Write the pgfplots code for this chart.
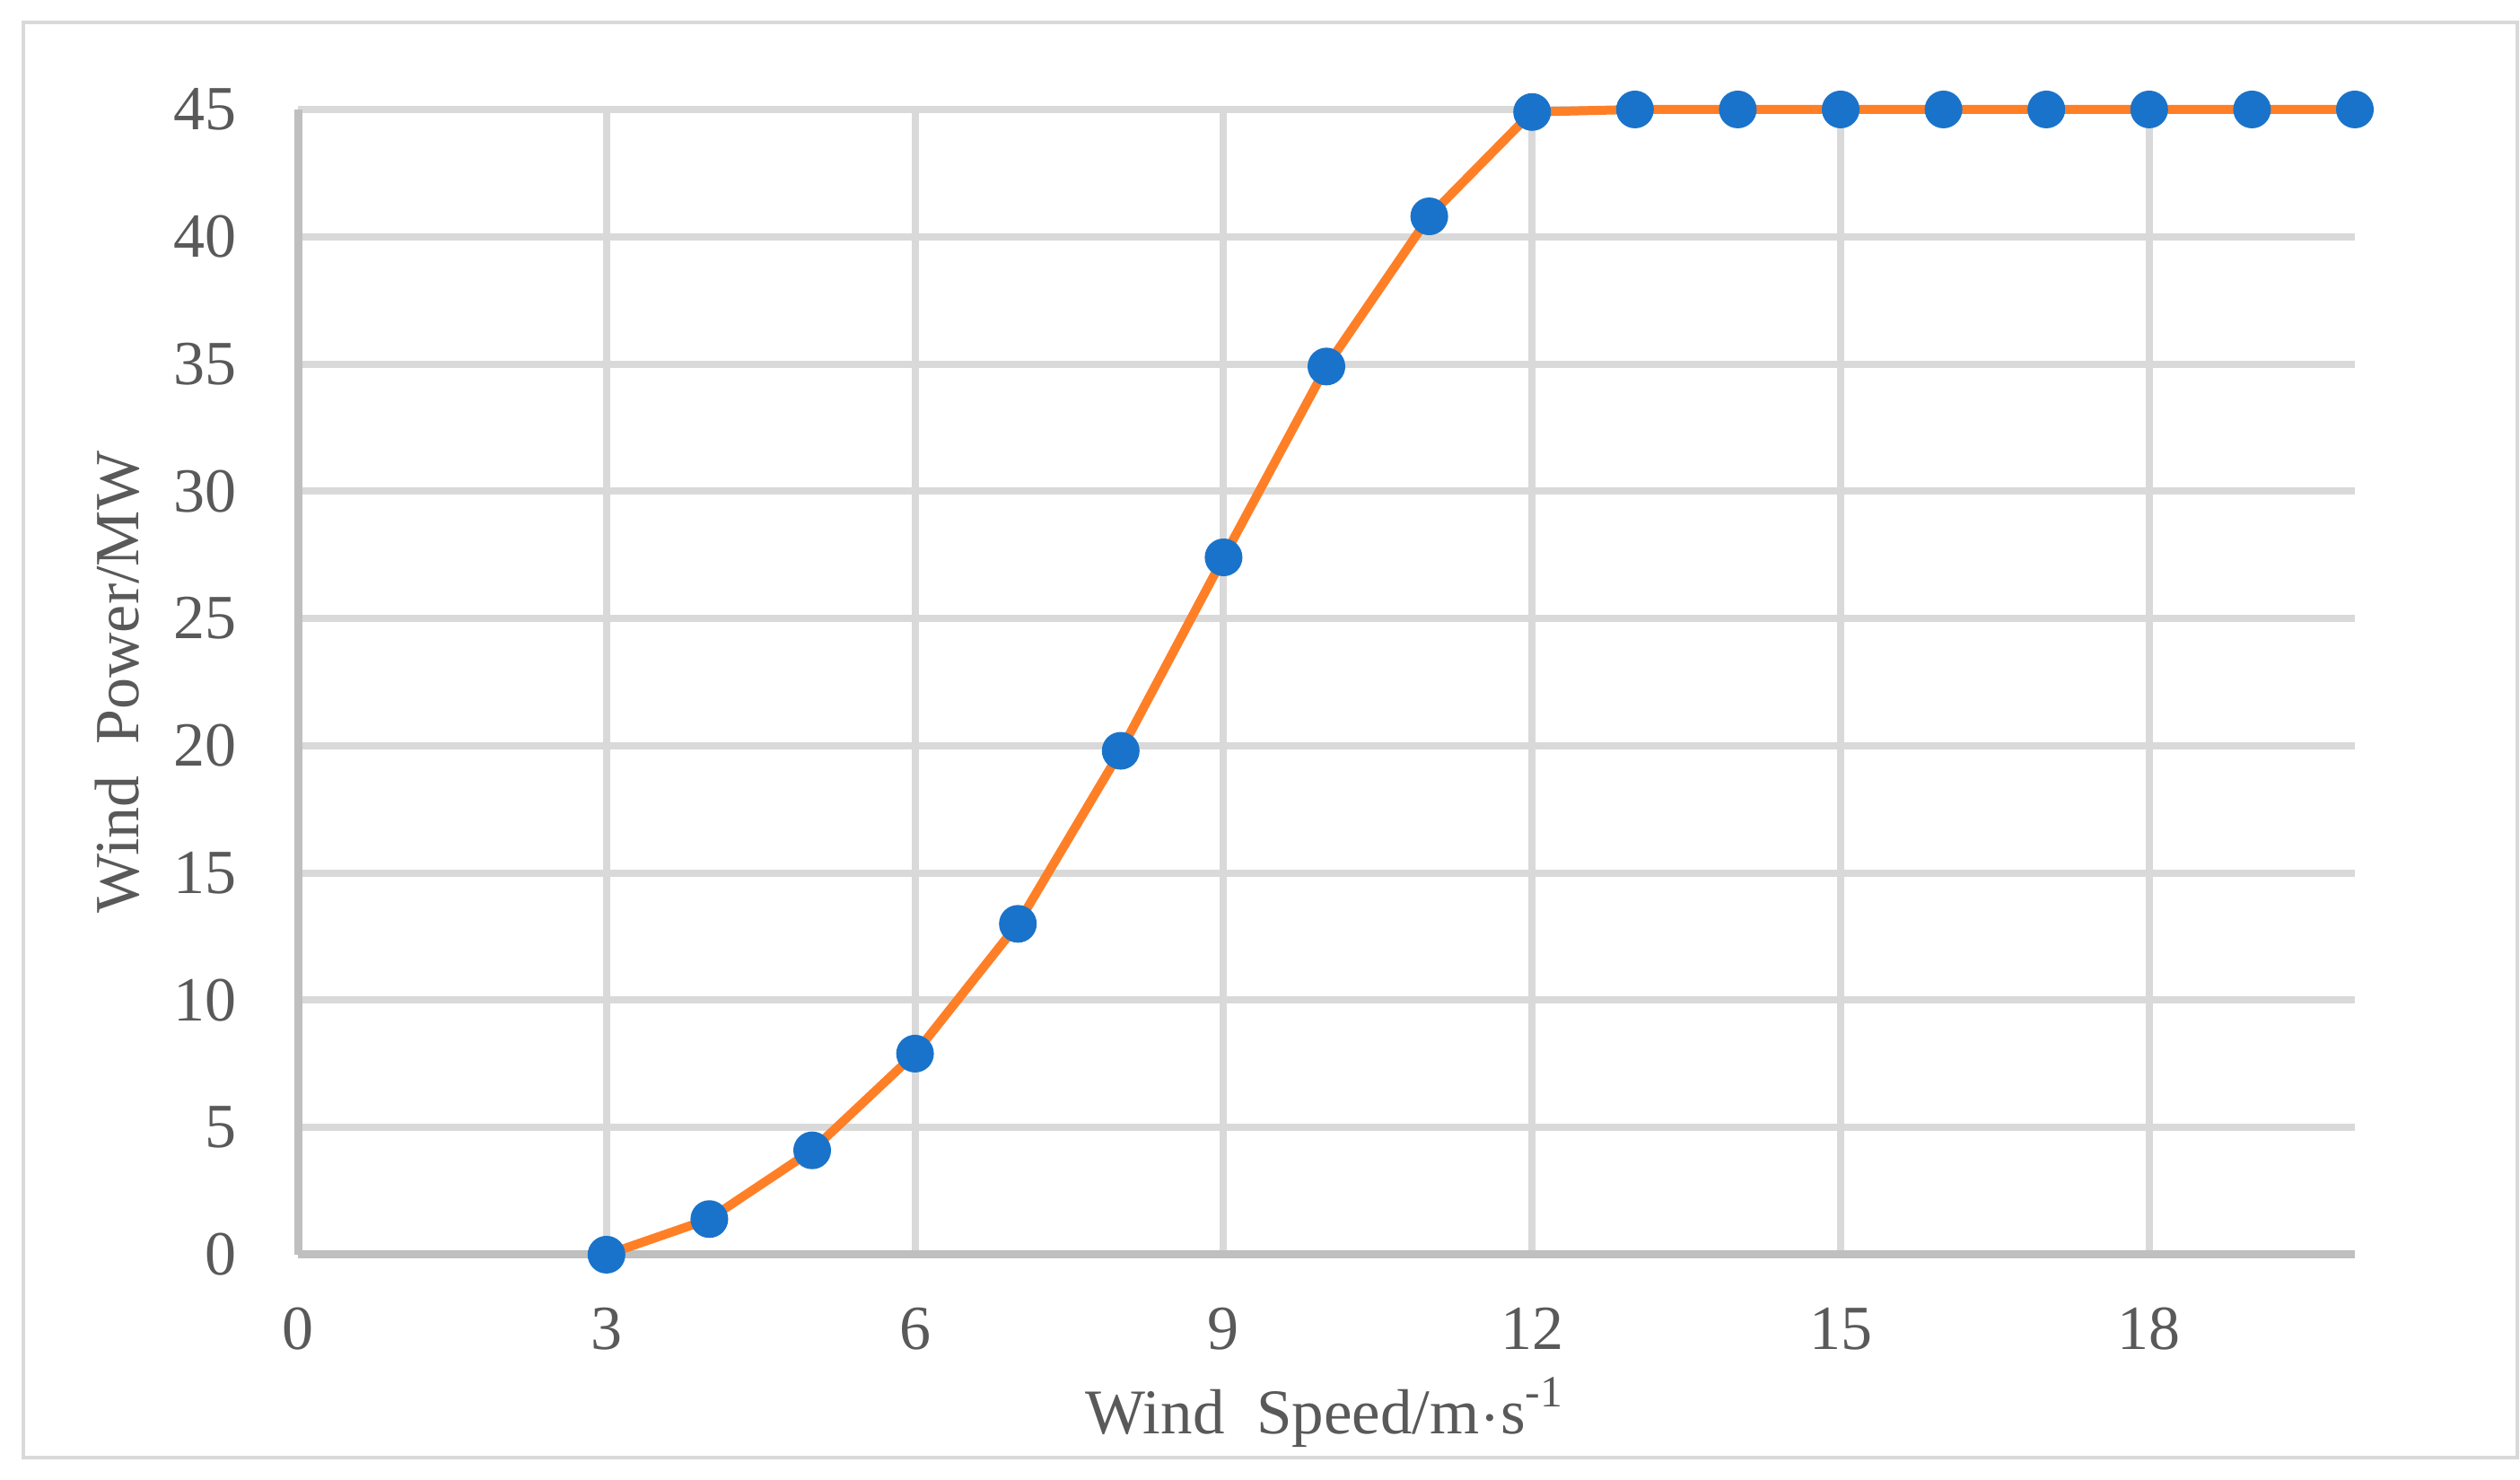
\documentclass[border=0pt]{standalone}
\usepackage{fontspec}
\setmainfont{Liberation Serif}
\usepackage{pgfplots}
\pgfplotsset{compat=1.18}
\definecolor{gridc}{HTML}{D9D9D9}
\definecolor{axisc}{HTML}{BFBFBF}
\definecolor{linec}{HTML}{FF7F27}
\definecolor{markc}{HTML}{1A73CA}
\definecolor{textc}{HTML}{595959}
\pgfplotstableread{
x y
3 0
4 1.4
5 4.1
6 7.9
7 13.0
8 19.8
9 27.4
10 34.9
11 40.8
12 44.9
13 45
14 45
15 45
16 45
17 45
18 45
19 45
20 45
}\powercurve
\begin{document}
\begin{tikzpicture}
\useasboundingbox (-33.2pt,-25.1pt) rectangle (247.6pt,139.8pt);
\draw[gridc, line width=0.4pt] (-30.6pt,-22.6pt) rectangle (247.3pt,137.3pt);
\begin{axis}[
  at={(0pt,0pt)}, anchor=south west,
  scale only axis, width=229.2pt, height=127.6pt,
  xmin=0, xmax=20, ymin=0, ymax=45,
  xtick={0,3,...,18}, ytick={0,5,...,45},
  axis x line*=bottom, axis y line*=left,
  axis line style={axisc, line width=0.9pt},
  grid=major, major grid style={gridc, line width=0.8pt},
  major tick length=0pt,
  clip=false,
  /pgf/number format/assume math mode=true,
  tick label style={font=\fontsize{7}{8}\selectfont, text=textc},
  yticklabel style={anchor=east, inner sep=0pt, xshift=-6.7pt},
  xticklabel style={anchor=north, inner sep=0pt, yshift=-5.7pt},
  every axis y label/.style={at={(axis description cs:-0.0877,0.5)}, anchor=center, rotate=90, font=\fontsize{7}{8}\selectfont, text=textc},
  every axis x label/.style={at={(axis description cs:0.5,-0.1567)}, anchor=base, font=\fontsize{7.1}{8}\selectfont, text=textc},
  xlabel={Wind\ \ Speed/m$\cdot$s\textsuperscript{-1}},
  ylabel={Wind\ \ Power/MW},
]
\addplot[linec, line width=1.0pt, no marks] table[x=x, y=y] {\powercurve};
\addplot[only marks, mark=*, mark size=1.9pt, mark options={fill=markc, draw=markc}] table[x=x, y=y] {\powercurve};
\end{axis}
\end{tikzpicture}
\end{document}
